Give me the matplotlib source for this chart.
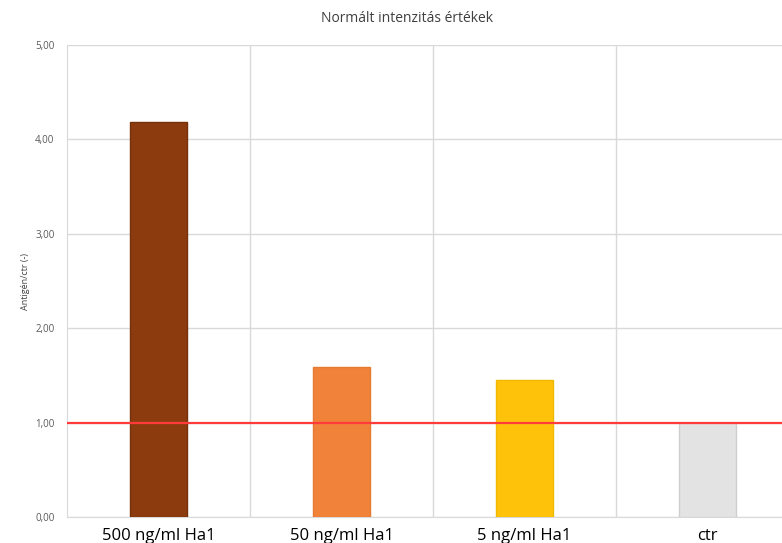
import numpy as np
import matplotlib
matplotlib.use("Agg")
import matplotlib.pyplot as plt

categories = ["500 ng/ml Ha1", "50 ng/ml Ha1", "5 ng/ml Ha1", "ctr"]
values = [4.18, 1.59, 1.45, 1.00]
colors = ["#8c3b0e", "#f0823a", "#ffc20a", "#e3e3e3"]
edges = ["#75310a", "#e67a32", "#f0b800", "#cfcfcf"]
yticks = [0, 1, 2, 3, 4, 5]
threshold = 1.0

plt.rcParams["font.family"] = ["Open Sans", "DejaVu Sans"]

fig = plt.figure(figsize=(7.82, 5.43), dpi=100)
# plot area runs past the right edge of the figure
ax = fig.add_axes([67/782, 26/543, 732/782, 472/543])

x = np.arange(len(categories))
ax.bar(x, values, width=0.31, color=colors, edgecolor=edges, linewidth=1.0, zorder=3)
ax.axhline(threshold, color="#ff3b3b", linewidth=1.6, zorder=4)

ax.set_xlim(-0.5, len(categories) - 0.5)
ax.set_ylim(0, 5)
ax.set_yticks(yticks)
ax.set_yticklabels([f"{t:.2f}".replace(".", ",") for t in yticks], fontsize=7, color="#595959")
ax.set_xticks(x)
ax.set_xticklabels(categories, fontsize=12, color="#000000")

# category separators and value grid
for b in np.arange(0.5, len(categories) - 0.5, 1):
    ax.axvline(b, color="#d9d9d9", linewidth=1.0, zorder=1)
ax.yaxis.grid(True, color="#d9d9d9", linewidth=1.0, zorder=1)
ax.set_axisbelow(True)

for s in ["top", "right"]:
    ax.spines[s].set_visible(False)
ax.spines["left"].set_color("#d9d9d9")
ax.spines["bottom"].set_color("#d9d9d9")
ax.tick_params(axis="both", length=0)
ax.tick_params(axis="y", pad=9)
ax.tick_params(axis="x", pad=8)

ax.set_ylabel("Antigén/ctr (-)", fontsize=6.5, color="#404040", labelpad=4)
fig.text(407/782, 1 - 18/543, "Normált intenzitás értékek", ha="center", va="center",
         fontsize=10, color="#404040")

fig.savefig("out.png", dpi=100)
